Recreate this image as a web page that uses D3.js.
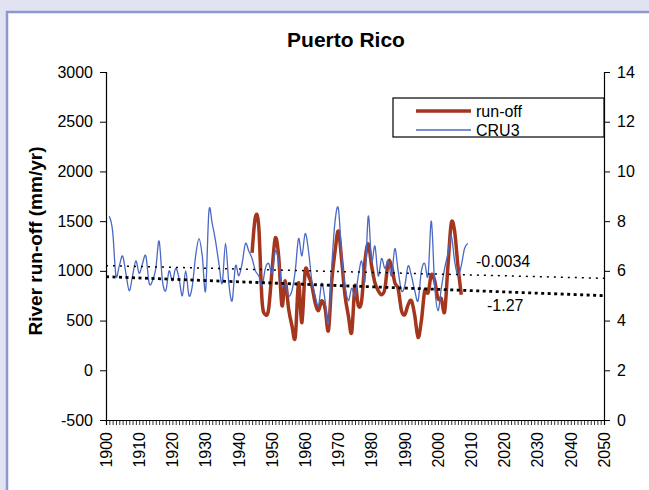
<!DOCTYPE html>
<html>
<head>
<meta charset="utf-8">
<script src="https://cdn.jsdelivr.net/npm/d3@7"></script>
<style>
  body { margin: 0; background: #e1e3f3; }
  svg { display: block; font-family: "Liberation Sans", Arial, sans-serif; }
</style>
</head>
<body>
<div id="chart"></div>
<script>
// run-off (mm/yr), left axis
const runoffYears = d3.range(1944, 2008);
const runoffValues = [1180, 1540, 1450, 700, 560, 620, 1000, 1330, 1150, 650,
  900, 620, 450, 330, 880, 480, 1000, 950, 850, 680,
  600, 700, 620, 400, 900, 1200, 1400, 1100, 750, 550,
  380, 850, 650, 700, 1100, 1270, 1050, 880, 800, 760,
  820, 1090, 1050, 880, 820, 600, 560, 660, 700, 550,
  330, 500, 800, 780, 960, 900, 720, 720, 590, 1050,
  1480, 1400, 1050, 760];

// CRU3, right axis
const cruYears = d3.range(1901, 2010);
const cruValues = [8.2, 7.6, 5.8, 6.2, 6.6, 5.9, 5.2, 5.8, 6.4, 5.9,
  6.3, 6.6, 5.5, 5.6, 6.1, 7.2, 5.6, 5.2, 6.0, 5.6,
  6.1, 5.7, 5.0, 6.0, 5.0, 5.4, 6.6, 7.3, 6.6, 5.2,
  8.4, 7.9, 7.2, 6.3, 5.5, 7.1, 5.5, 4.8, 6.2, 5.8,
  6.3, 7.1, 6.8, 6.5, 6.0, 5.8, 5.4, 6.1, 6.3, 5.9,
  6.8, 6.4, 5.4, 5.5, 5.0, 5.2, 6.0, 7.3, 6.6, 7.5,
  6.8, 5.6, 5.0, 4.6, 5.5, 4.8, 3.9, 6.2, 8.0, 8.5,
  6.6, 5.4, 4.8, 5.3, 5.0, 5.8, 6.4, 5.6, 8.2, 6.4,
  7.0, 5.8, 6.5, 6.1, 6.4, 5.8, 6.9, 6.0, 5.2, 5.4,
  6.2, 5.8, 5.2, 4.8, 6.0, 6.3, 5.8, 8.0, 5.4, 4.4,
  5.3, 6.1, 6.7, 7.4, 6.4, 5.8, 6.2, 6.9, 7.1];

// linear trends (start value at 1900, slope per year)
const trendYears = [1900, 2050];
const runoffTrend = { start: 941, slope: -1.27, label: "-1.27" };
const cruTrend = { start: 6.21, slope: -0.0034, label: "-0.0034" };

const leftTicks = d3.range(-500, 3001, 500);
const rightTicks = d3.range(0, 15, 2);
const decadeLabels = d3.range(1900, 2051, 10);

const width = 649, height = 490;
const margin = { left: 106, right: 45, top: 72, bottom: 70 };
const red = "#a3361d", blue = "#4a68c4";

const svg = d3.select("#chart").append("svg")
  .attr("width", width)
  .attr("height", height);

// white panel with blue frame
svg.append("rect")
  .attr("x", 7).attr("y", 12)
  .attr("width", 700).attr("height", 520)
  .attr("fill", "#fff")
  .attr("stroke", "#8e98cf")
  .attr("stroke-width", 2.5);

const x = d3.scaleLinear().domain([1900, 2050]).range([margin.left, width - margin.right]);
const yL = d3.scaleLinear().domain([-500, 3000]).range([height - margin.bottom, margin.top]);
const yR = d3.scaleLinear().domain([0, 14]).range([height - margin.bottom, margin.top]);

svg.append("text")
  .attr("x", 346).attr("y", 47)
  .attr("text-anchor", "middle")
  .attr("font-size", 21).attr("font-weight", "bold")
  .text("Puerto Rico");

// axes (plain hyphen for negatives, no thousands separator)
const plain = d => String(d);
const axL = svg.append("g")
  .attr("transform", `translate(${margin.left},0)`)
  .call(d3.axisLeft(yL).tickValues(leftTicks).tickSize(6).tickPadding(7).tickFormat(plain));
const axR = svg.append("g")
  .attr("transform", `translate(${width - margin.right},0)`)
  .call(d3.axisRight(yR).tickValues(rightTicks).tickSize(6).tickPadding(7).tickFormat(plain));
const axB = svg.append("g")
  .attr("transform", `translate(0,${height - margin.bottom})`)
  .call(d3.axisBottom(x).tickValues(d3.range(1900, 2051)).tickSize(5).tickFormat(""));

[axL, axR, axB].forEach(g => {
  g.select(".domain").attr("stroke", "#000").attr("stroke-width", 1.2);
  g.selectAll(".tick line").attr("stroke", "#000");
  g.selectAll("text").attr("font-size", 16).attr("fill", "#000")
    .attr("font-family", "Liberation Sans, Arial, sans-serif");
});
axB.selectAll(".tick line").attr("stroke-width", 0.8);

svg.append("g").selectAll("text")
  .data(decadeLabels)
  .join("text")
  .attr("transform", d => `translate(${x(d)},${height - margin.bottom + 12}) rotate(-90)`)
  .attr("text-anchor", "end")
  .attr("dy", "0.36em")
  .attr("font-size", 16)
  .text(d => d);

svg.append("text")
  .attr("transform", `translate(42,241) rotate(-90)`)
  .attr("text-anchor", "middle")
  .attr("font-size", 19).attr("font-weight", "bold")
  .text("River run-off (mm/yr)");

// series
const smooth = d3.curveCatmullRom.alpha(0);
svg.append("path")
  .datum(runoffYears.map((yr, i) => [yr, runoffValues[i]]))
  .attr("fill", "none")
  .attr("stroke", red)
  .attr("stroke-width", 3.5)
  .attr("d", d3.line().x(d => x(d[0])).y(d => yL(d[1])).curve(smooth));

svg.append("path")
  .datum(cruYears.map((yr, i) => [yr, cruValues[i]]))
  .attr("fill", "none")
  .attr("stroke", blue)
  .attr("stroke-width", 1.3)
  .attr("d", d3.line().x(d => x(d[0])).y(d => yR(d[1])).curve(smooth));

// trend lines
svg.append("path")
  .datum(trendYears.map(yr => [yr, cruTrend.start + cruTrend.slope * (yr - 1900)]))
  .attr("fill", "none").attr("stroke", "#000")
  .attr("stroke-width", 1.5).attr("stroke-dasharray", "2,5")
  .attr("d", d3.line().x(d => x(d[0])).y(d => yR(d[1])));

svg.append("path")
  .datum(trendYears.map(yr => [yr, runoffTrend.start + runoffTrend.slope * (yr - 1900)]))
  .attr("fill", "none").attr("stroke", "#000")
  .attr("stroke-width", 2.8).attr("stroke-dasharray", "3,3.5")
  .attr("d", d3.line().x(d => x(d[0])).y(d => yL(d[1])));

svg.append("text")
  .attr("x", 476).attr("y", 267)
  .attr("font-size", 16)
  .text(cruTrend.label);
svg.append("text")
  .attr("x", 487).attr("y", 311)
  .attr("font-size", 16)
  .text(runoffTrend.label);

// legend
const legend = svg.append("g");
legend.append("rect")
  .attr("x", 393).attr("y", 98)
  .attr("width", x(2050) - 393).attr("height", 39)
  .attr("fill", "#fff").attr("stroke", "#000").attr("stroke-width", 1.2);
const legendItems = [
  { name: "run-off", color: red, w: 3.5 },
  { name: "CRU3", color: blue, w: 1.3 }
];
legendItems.forEach((d, i) => {
  const ly = 111 + i * 19;
  legend.append("line")
    .attr("x1", 416).attr("x2", 471)
    .attr("y1", ly).attr("y2", ly)
    .attr("stroke", d.color).attr("stroke-width", d.w);
  legend.append("text")
    .attr("x", 476).attr("y", ly + 6)
    .attr("font-size", 16)
    .text(d.name);
});
</script>
</body>
</html>
